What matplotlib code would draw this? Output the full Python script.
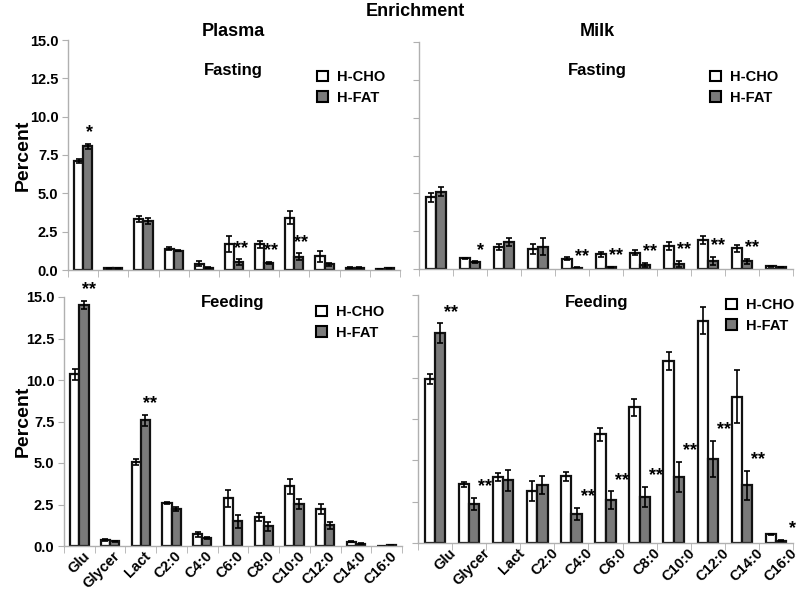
import numpy as np
import matplotlib.pyplot as plt
from matplotlib.patches import Patch
from matplotlib.ticker import FixedLocator, NullFormatter
import matplotlib.transforms as mtransforms

plt.rcParams['font.family'] = ['Liberation Sans', 'DejaVu Sans']
plt.rcParams['font.weight'] = 'bold'

cats = ['Glu', 'Glycer', 'Lact', 'C2:0', 'C4:0', 'C6:0', 'C8:0',
        'C10:0', 'C12:0', 'C14:0', 'C16:0']

# Plasma, fasting
pl_fast_cho = [7.1, 0.1, 3.3, 1.4, 0.42, 1.7, 1.68, 3.42, 0.9, 0.15, 0.07]
pl_fast_cho_err = [0.12, 0.03, 0.2, 0.08, 0.15, 0.5, 0.22, 0.45, 0.35, 0.04, 0.02]
pl_fast_fat = [8.07, 0.1, 3.2, 1.25, 0.15, 0.52, 0.47, 0.87, 0.38, 0.15, 0.1]
pl_fast_fat_err = [0.15, 0.02, 0.2, 0.03, 0.03, 0.17, 0.08, 0.22, 0.1, 0.03, 0.02]
pl_fast_sig = ['*', '', '', '', '', '**', '**', '**', '', '', '']

# Milk, fasting
mk_fast_cho = [4.73, 0.7, 1.43, 1.32, 0.68, 0.97, 1.08, 1.54, 1.91, 1.36, 0.18]
mk_fast_cho_err = [0.3, 0.03, 0.2, 0.3, 0.08, 0.15, 0.18, 0.27, 0.25, 0.25, 0.03]
mk_fast_fat = [5.1, 0.46, 1.78, 1.47, 0.09, 0.1, 0.25, 0.35, 0.55, 0.5, 0.12]
mk_fast_fat_err = [0.3, 0.05, 0.25, 0.55, 0.02, 0.02, 0.15, 0.2, 0.27, 0.15, 0.02]
mk_fast_sig = ['', '*', '', '', '**', '**', '**', '**', '**', '**', '']

# Plasma, feeding
pl_feed_cho = [10.34, 0.35, 5.06, 2.59, 0.7, 2.87, 1.75, 3.59, 2.21, 0.27, 0.0]
pl_feed_cho_err = [0.35, 0.05, 0.2, 0.08, 0.15, 0.5, 0.25, 0.45, 0.3, 0.04, 0.0]
pl_feed_fat = [14.5, 0.3, 7.57, 2.25, 0.5, 1.49, 1.18, 2.55, 1.25, 0.15, 0.05]
pl_feed_fat_err = [0.25, 0.03, 0.35, 0.12, 0.05, 0.4, 0.25, 0.3, 0.22, 0.03, 0.02]
pl_feed_sig = ['**', '', '**', '', '', '', '', '', '', '', '']

# Milk, feeding
mk_feed_cho = [9.9, 3.55, 3.97, 3.16, 4.03, 6.58, 8.2, 11.0, 13.45, 8.86, 0.52]
mk_feed_cho_err = [0.3, 0.15, 0.25, 0.6, 0.25, 0.4, 0.5, 0.55, 0.8, 1.6, 0.05]
mk_feed_fat = [12.68, 2.36, 3.79, 3.5, 1.77, 2.58, 2.8, 3.99, 5.09, 3.48, 0.14]
mk_feed_fat_err = [0.6, 0.35, 0.65, 0.55, 0.35, 0.55, 0.6, 0.9, 1.1, 0.9, 0.03]
mk_feed_sig = ['**', '**', '', '', '**', '**', '**', '**', '**', '**', '*']

W, H = 810, 592
fig = plt.figure(figsize=(W / 100, H / 100), dpi=100)


def px_axes(x0, x1, ytop, ybot):
    return fig.add_axes([x0 / W, 1 - ybot / H, (x1 - x0) / W, (ybot - ytop) / H])


def panel(ax, cho, cho_err, fat, fat_err, sig, left, xlabels, star_dx, leg_xy):
    x = np.arange(len(cats))
    bw = 0.3
    ekw = dict(ecolor='black', elinewidth=1.2, capsize=2.5, capthick=1.2)
    ax.bar(x - bw / 2, cho, bw, yerr=cho_err, color='white', edgecolor='#111111',
           linewidth=1.6, error_kw=ekw, zorder=2)
    ax.bar(x + bw / 2, fat, bw, yerr=fat_err, color='#7a7a7a', edgecolor='#111111',
           linewidth=1.6, error_kw=ekw, zorder=2)
    for i, s in enumerate(sig):
        if s:
            ax.annotate(s, (x[i] + bw / 2, fat[i] + fat_err[i]),
                        xytext=(star_dx * 0.72, 8), textcoords='offset points',
                        ha='center', va='center', fontsize=13, fontweight='bold')
    ax.set_xlim(-0.5, len(cats) - 0.5)
    ax.set_ylim(0, 15)
    ax.set_yticks(np.arange(0, 15.1, 2.5))
    if left:
        ax.set_yticklabels(['%.1f' % v for v in np.arange(0, 15.1, 2.5)],
                           fontweight='bold')
        ax.set_ylabel('Percent', fontsize=14, fontweight='bold')
        ax.yaxis.set_label_coords(32 / W, 0.5, transform=mtransforms.blended_transform_factory(
            fig.transFigure, ax.transAxes))
    else:
        ax.set_yticklabels([])
    ax.xaxis.set_minor_locator(FixedLocator(np.arange(-0.5, len(cats), 1.0)))
    ax.xaxis.set_minor_formatter(NullFormatter())
    ax.set_xticks(x)
    ax.tick_params(axis='x', which='major', length=0, pad=2)
    ax.tick_params(axis='x', which='minor', length=5, color='#b0b0b0')
    ax.tick_params(axis='y', length=4, color='#b0b0b0', labelsize=10.5, pad=3)
    if xlabels:
        ax.set_xticklabels(cats, rotation=45, ha='right', rotation_mode='anchor',
                           fontsize=10.5, fontweight='bold')
        off = mtransforms.ScaledTranslation(xlabels / 100, 0, fig.dpi_scale_trans)
        for lab in ax.get_xticklabels():
            lab.set_transform(lab.get_transform() + off)
    else:
        ax.set_xticklabels([])
    for side in ['top', 'right']:
        ax.spines[side].set_visible(False)
    for side in ['left', 'bottom']:
        ax.spines[side].set_color('#b0b0b0')
        ax.spines[side].set_linewidth(1.0)
    handles = [Patch(facecolor='white', edgecolor='black', linewidth=1.5, label='H-CHO'),
               Patch(facecolor='#7a7a7a', edgecolor='black', linewidth=1.5, label='H-FAT')]
    ax.legend(handles=handles, loc='upper left',
              bbox_to_anchor=(leg_xy[0] / W, 1 - leg_xy[1] / H),
              bbox_transform=fig.transFigure, frameon=False,
              handlelength=0.75, handleheight=0.75, handletextpad=0.6,
              labelspacing=0.45, borderpad=0, borderaxespad=0,
              prop={'size': 10.5, 'weight': 'bold'})


ax1 = px_axes(68, 400, 40, 270)
panel(ax1, pl_fast_cho, pl_fast_cho_err, pl_fast_fat, pl_fast_fat_err, pl_fast_sig,
      True, 0, 2, (317, 70))
ax2 = px_axes(419, 793, 42, 269)
panel(ax2, mk_fast_cho, mk_fast_cho_err, mk_fast_fat, mk_fast_fat_err, mk_fast_sig,
      False, 0, 5, (710, 70))
ax3 = px_axes(64, 402, 297, 546)
panel(ax3, pl_feed_cho, pl_feed_cho_err, pl_feed_fat, pl_feed_fat_err, pl_feed_sig,
      True, 3, 5, (316, 305))
ax4 = px_axes(418, 793, 295, 543)
panel(ax4, mk_feed_cho, mk_feed_cho_err, mk_feed_fat, mk_feed_fat_err, mk_feed_sig,
      False, 14, 11, (726, 298))

fig.text(415 / W, 1 - 12 / H, 'Enrichment', ha='center', va='center', fontsize=13, fontweight='bold')
fig.text(233 / W, 1 - 32 / H, 'Plasma', ha='center', va='center', fontsize=13, fontweight='bold')
fig.text(597 / W, 1 - 32 / H, 'Milk', ha='center', va='center', fontsize=13, fontweight='bold')
fig.text(233 / W, 1 - 70 / H, 'Fasting', ha='center', va='center', fontsize=12, fontweight='bold')
fig.text(597 / W, 1 - 70 / H, 'Fasting', ha='center', va='center', fontsize=12, fontweight='bold')
fig.text(233 / W, 1 - 303 / H, 'Feeding', ha='center', va='center', fontsize=12, fontweight='bold')
fig.text(597 / W, 1 - 302 / H, 'Feeding', ha='center', va='center', fontsize=12, fontweight='bold')

fig.savefig('out.png', dpi=100)
